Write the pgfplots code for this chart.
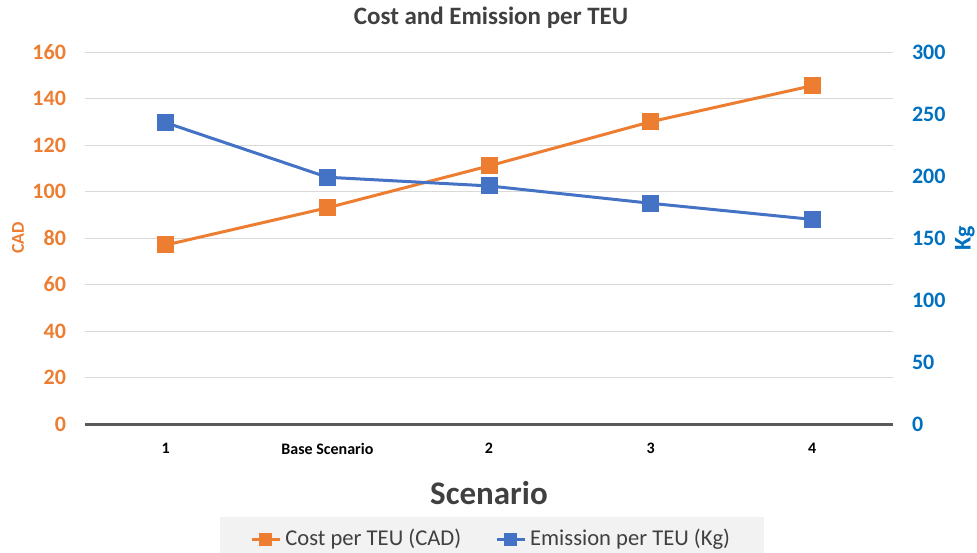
\documentclass[border=0pt]{standalone}
\usepackage{fontspec}
\setmainfont{Carlito}
\usepackage{pgfplots}
\pgfplotsset{compat=1.18}

\definecolor{costor}{HTML}{ED7D31}
\definecolor{emblue}{HTML}{4472C4}
\definecolor{kgblue}{HTML}{0070C0}
\definecolor{txtgray}{HTML}{404040}
\definecolor{gridgray}{HTML}{D9D9D9}
\definecolor{zeroline}{HTML}{595959}
\definecolor{legbg}{HTML}{F2F2F2}

\pgfplotsset{
  chartbase/.style={
    scale only axis, width=404pt, height=186pt,
    at={(42.5pt,64pt)}, anchor=south west,
    xmin=-0.5, xmax=4.5, ymin=0,
    /pgf/number format/assume math mode=true,
    major tick length=0pt,
    every axis plot/.append style={line width=1.5pt, mark=square*, mark size=3.5pt},
  },
}

\begin{document}
\begin{tikzpicture}
\useasboundingbox (0,0) rectangle (488.5pt,276pt);

% left axis: cost
\begin{axis}[chartbase,
  ymax=160, ytick={0,20,...,160},
  xtick={0,...,4}, xticklabels={1,Base Scenario,2,3,4},
  axis x line*=bottom, axis y line*=left,
  x axis line style={draw=zeroline, line width=1.5pt, -},
  y axis line style={draw=none},
  ymajorgrids, grid style={gridgray, line width=0.5pt},
  yticklabel style={font=\bfseries\fontsize{11}{13}\selectfont, text=costor, xshift=-6pt},
  xticklabel style={font=\bfseries\fontsize{8}{10}\selectfont, text=black, yshift=-6pt},
  ylabel={CAD},
  ylabel style={at={(-0.0829,0.5)}, anchor=center, font=\bfseries\fontsize{9}{10}\selectfont, text=costor},
  title={Cost and Emission per TEU},
  title style={at={(0.5025,1.059)}, anchor=center, yshift=0pt, font=\bfseries\fontsize{12.5}{14}\selectfont, text=txtgray},
  xlabel={Scenario},
  xlabel style={at={(0.5,-0.1855)}, anchor=center, font=\bfseries\fontsize{16.5}{18}\selectfont, text=txtgray},
]
\addplot[costor] coordinates {(0,77) (1,93) (2,111) (3,130) (4,145.5)};
\end{axis}

% right axis: emission
\begin{axis}[chartbase,
  ymax=300, ytick={0,50,...,300},
  axis x line=none, axis y line*=right,
  y axis line style={draw=none},
  yticklabel style={font=\bfseries\fontsize{11}{13}\selectfont, text=kgblue, xshift=6pt},
  ylabel={Kg},
  ylabel style={at={(1.089,0.5)}, anchor=center, font=\bfseries\fontsize{12}{14}\selectfont, text=kgblue},
  legend columns=2,
  legend image code/.code={\draw[mark repeat=2, mark phase=2, mark size=2.5pt] plot coordinates {(0pt,0pt) (7pt,0pt) (14pt,0pt)};},
  legend style={at={(0.504,-0.25)}, anchor=north, fill=legbg, draw=none,
    inner xsep=15pt, inner ysep=4pt, font=\fontsize{11.3}{13}\selectfont, text=txtgray,
    /tikz/every even column/.append style={column sep=15pt}},
]
\addlegendimage{costor, line width=1.5pt, mark=square*}
\addlegendentry{Cost per TEU (CAD)}
\addplot[emblue] coordinates {(0,243) (1,199) (2,192) (3,178) (4,165)};
\addlegendentry{Emission per TEU (Kg)}
\end{axis}
\end{tikzpicture}
\end{document}
